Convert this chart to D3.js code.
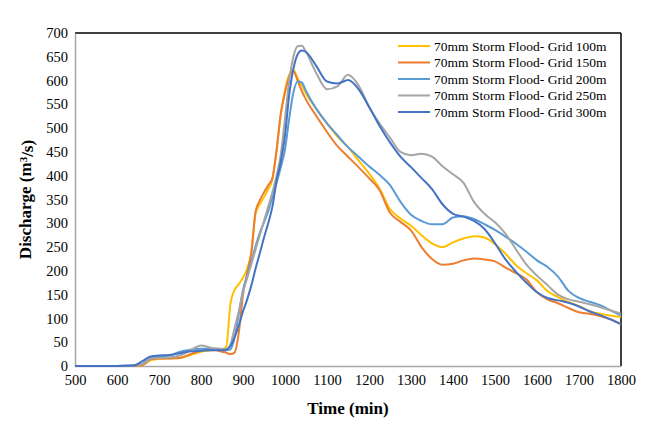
<!DOCTYPE html>
<html>
<head>
<meta charset="utf-8">
<script src="https://cdn.jsdelivr.net/npm/d3@7"></script>
<style>
  body { margin: 0; background: #fff; }
  svg text { font-family: "Liberation Serif", "Times New Roman", serif; }
</style>
</head>
<body>
<svg id="chart" width="657" height="421"></svg>
<script>
// time axis (min)
const time = [500, 550, 600, 640, 660, 680, 700, 725, 750, 775, 800, 825, 850, 860, 870, 880, 890, 900, 910, 920, 930, 940, 950, 960, 970, 980, 990, 1000, 1010, 1020, 1030, 1040, 1050, 1075, 1100, 1125, 1150, 1175, 1200, 1225, 1250, 1275, 1300, 1325, 1350, 1375, 1400, 1425, 1450, 1475, 1500, 1525, 1550, 1575, 1600, 1625, 1650, 1675, 1700, 1725, 1750, 1775, 1800];

// discharge (m3/s) per grid size
const grid100 = [0, 0, 0, 0, 2, 12, 15, 16, 17, 23, 30, 33, 35, 40, 130, 160, 172, 186, 205, 240, 320, 340, 355, 372, 392, 454, 530, 580, 612, 622, 605, 590, 572, 540, 510, 482, 460, 432, 405, 373, 330, 310, 295, 275, 258, 250, 260, 268, 273, 270, 256, 236, 212, 195, 180, 157, 145, 134, 126, 115, 110, 106, 103];
const grid150 = [0, 0, 0, 0, 2, 14, 16, 16, 17, 25, 32, 35, 30, 28, 25, 28, 70, 150, 195, 240, 325, 348, 365, 380, 395, 454, 530, 575, 608, 619, 600, 578, 560, 525, 492, 462, 440, 418, 395, 370, 322, 303, 285, 250, 225, 213, 215, 222, 226, 224, 220, 207, 195, 182, 155, 140, 132, 122, 113, 110, 105, 98, 88];
const grid200 = [0, 0, 0, 1, 5, 16, 20, 22, 30, 34, 36, 36, 34, 33, 35, 60, 110, 160, 190, 220, 252, 280, 302, 325, 355, 385, 418, 455, 520, 575, 598, 596, 578, 540, 510, 485, 460, 440, 420, 402, 380, 345, 318, 305, 298, 298, 312, 315, 309, 298, 286, 272, 257, 240, 222, 208, 188, 158, 143, 135, 128, 117, 106];
const grid250 = [0, 0, 0, 1, 4, 15, 17, 18, 22, 33, 43, 38, 36, 35, 45, 80, 115, 155, 185, 215, 245, 275, 305, 335, 365, 400, 445, 520, 600, 650, 672, 673, 660, 615, 582, 588, 612, 590, 545, 510, 480, 450, 443, 446, 440, 420, 403, 385, 345, 320, 302, 278, 245, 213, 190, 170, 150, 140, 135, 130, 124, 117, 110];
const grid300 = [0, 0, 0, 1, 10, 20, 22, 23, 27, 31, 32, 33, 33, 34, 42, 60, 85, 115, 140, 170, 205, 237, 270, 300, 335, 390, 430, 485, 570, 625, 655, 663, 660, 630, 598, 594, 601, 582, 545, 505, 470, 440, 418, 395, 372, 340, 320, 314, 305, 288, 258, 224, 198, 175, 155, 143, 138, 133, 125, 115, 107, 98, 88];

const seriesNames = ['70mm Storm Flood- Grid 100m', '70mm Storm Flood- Grid 150m', '70mm Storm Flood- Grid 200m', '70mm Storm Flood- Grid 250m', '70mm Storm Flood- Grid 300m'];
const seriesValues = [grid100, grid150, grid200, grid250, grid300];
const seriesColors = ['#FFC000', '#ED7D31', '#5B9BD5', '#A5A5A5', '#4472C4'];

const xTicks = d3.range(500, 1801, 100);
const yTicks = d3.range(0, 701, 50);

//plot area
const plot = { left: 75, right: 621, top: 33, bottom: 366 };

const xScale = d3.scaleLinear().domain([500, 1800]).range([plot.left, plot.right]);
const yScale = d3.scaleLinear().domain([0, 700]).range([plot.bottom, plot.top]);

const svg = d3.select('#chart');

//frame: top/right black, left/bottom grey
svg.append('line').attr('x1', plot.left).attr('x2', plot.right).attr('y1', plot.top).attr('y2', plot.top)
	.attr('stroke', '#000').attr('stroke-width', 1.5);
svg.append('line').attr('x1', plot.right).attr('x2', plot.right).attr('y1', plot.top).attr('y2', plot.bottom)
	.attr('stroke', '#000').attr('stroke-width', 1.5);

const xAxis = d3.axisBottom(xScale).tickValues(xTicks).tickFormat(d3.format('d')).tickSize(0).tickPadding(9);
const yAxis = d3.axisLeft(yScale).tickValues(yTicks).tickFormat(d3.format('d')).tickSize(0).tickPadding(7);

const gx = svg.append('g').attr('transform', 'translate(0,' + plot.bottom + ')').call(xAxis);
const gy = svg.append('g').attr('transform', 'translate(' + plot.left + ',0)').call(yAxis);
[gx, gy].forEach((g) => {
	g.select('.domain').attr('stroke', '#a6a6a6').attr('stroke-width', 1.5);
	g.selectAll('text')
		.style('font-size', '14.5px')
		.attr('fill', '#000');
});

//lines
const line = d3
	.line()
	.x((d, i) => xScale(time[i]))
	.y((d) => yScale(d))
	.curve(d3.curveMonotoneX);

svg
	.append('g')
	.selectAll('path')
	.data(seriesValues)
	.enter()
	.append('path')
	.attr('d', (d) => line(d))
	.attr('fill', 'none')
	.attr('stroke', (d, i) => seriesColors[i])
	.attr('stroke-width', 2);

//legend
const legend = svg
	.append('g')
	.selectAll('g')
	.data(seriesNames)
	.enter()
	.append('g')
	.attr('transform', (d, i) => 'translate(398,' + (46 + i * 16.5) + ')');

legend
	.append('line')
	.attr('x1', 0)
	.attr('x2', 32)
	.attr('stroke', (d, i) => seriesColors[i])
	.attr('stroke-width', 2);

legend
	.append('text')
	.attr('x', 36)
	.attr('dy', '0.35em')
	.style('font-size', '13.5px')
	.text((d) => d);

//axis titles
svg
	.append('text')
	.attr('x', (plot.left + plot.right) / 2)
	.attr('y', 414)
	.attr('text-anchor', 'middle')
	.style('font-size', '17px')
	.style('font-weight', 'bold')
	.text('Time (min)');

const yTitle = svg
	.append('text')
	.attr('transform', 'translate(31,' + (plot.top + plot.bottom) / 2 + ') rotate(-90)')
	.attr('text-anchor', 'middle')
	.style('font-size', '17px')
	.style('font-weight', 'bold');
yTitle.append('tspan').text('Discharge (m');
yTitle.append('tspan').attr('dy', '-0.4em').style('font-size', '11px').text('3');
yTitle.append('tspan').attr('dy', '0.4em').text('/s)');
</script>
</body>
</html>
